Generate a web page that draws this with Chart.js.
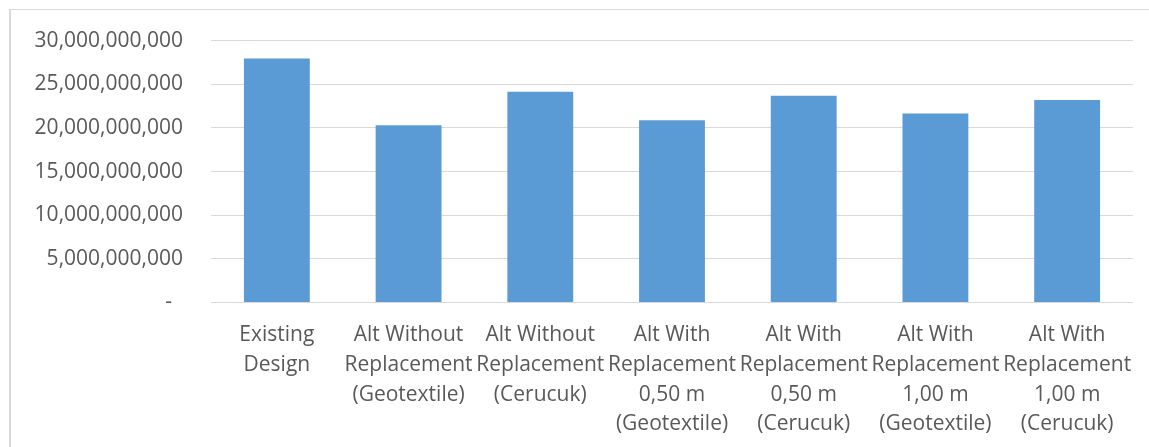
<!DOCTYPE html>
<html>
<head>
<meta charset="utf-8">
<script src="https://cdn.jsdelivr.net/npm/chart.js@4"></script>
<style>
  html, body { margin: 0; padding: 0; background: #ffffff; }
  #wrap { position: relative; width: 1149px; height: 447px; overflow: hidden; }
  #frame { position: absolute; left: 9px; top: 9px; width: 1300px; height: 600px;
           border-top: 1px solid #d9d9d9; border-left: 2px solid #d9d9d9; box-sizing: border-box; }
  #c { position: absolute; left: 0; top: 0; }
</style>
</head>
<body>
<div id="wrap">
  <div id="frame"></div>
  <canvas id="c" width="1149" height="447"></canvas>
</div>
<script>
// Cost of each design alternative
const categories = [
  ["Existing", "Design"],
  ["Alt Without", "Replacement", "(Geotextile)"],
  ["Alt Without", "Replacement", "(Cerucuk)"],
  ["Alt With", "Replacement", "0,50 m", "(Geotextile)"],
  ["Alt With", "Replacement", "0,50 m", "(Cerucuk)"],
  ["Alt With", "Replacement", "1,00 m", "(Geotextile)"],
  ["Alt With", "Replacement", "1,00 m", "(Cerucuk)"]
];
const costs = [
  27960000000,
  20300000000,
  24140000000,
  20880000000,
  23690000000,
  21640000000,
  23190000000
];
const yTickValues = [0, 5000000000, 10000000000, 15000000000, 20000000000, 25000000000, 30000000000];

const Y_FONT = { family: "'Open Sans', sans-serif", size: 21 };
const X_FONT = { family: "'Open Sans', sans-serif", size: 21, lineHeight: '29.7px' };
const TEXT = '#595959';

new Chart(document.getElementById('c'), {
  type: 'bar',
  data: {
    labels: categories,
    datasets: [{
      data: costs,
      backgroundColor: '#5b9bd5',
      borderWidth: 0,
      barPercentage: 0.5,
      categoryPercentage: 1.0
    }]
  },
  options: {
    responsive: false,
    animation: false,
    devicePixelRatio: 1,
    layout: { padding: { top: 32, right: 16, bottom: 0, left: 0 } },
    plugins: { legend: { display: false }, tooltip: { enabled: false } },
    scales: {
      x: {
        grid: { display: false },
        border: { display: false },
        ticks: { color: TEXT, font: X_FONT, padding: 10, maxRotation: 0, autoSkip: false },
        afterFit: (s) => { s.height = 144.5; }
      },
      y: {
        min: 0,
        max: 30000000000,
        afterBuildTicks: (s) => { s.ticks = yTickValues.map(v => ({ value: v })); },
        grid: { color: '#d9d9d9', lineWidth: 1, drawTicks: false },
        border: { display: false },
        ticks: {
          color: TEXT,
          font: Y_FONT,
          padding: 28,
          callback: (v) => v === 0 ? '-\u00a0\u00a0' : Number(v).toLocaleString('en-US')
        },
        afterFit: (s) => { s.width = 211; }
      }
    }
  }
});
</script>
</body>
</html>
